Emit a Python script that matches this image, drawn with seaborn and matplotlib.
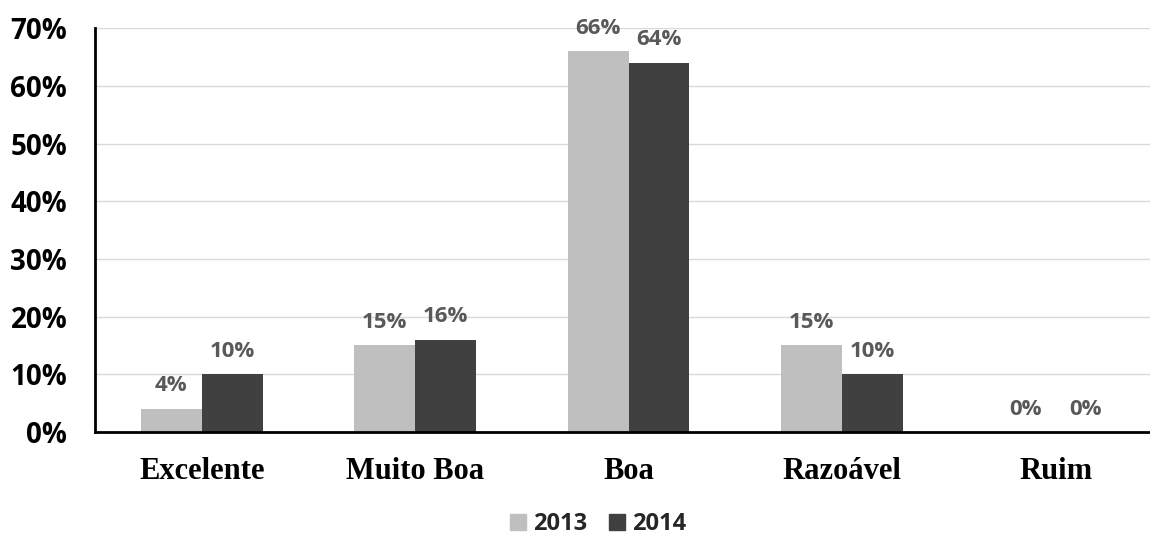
import matplotlib
matplotlib.use("Agg")
import matplotlib.pyplot as plt
import seaborn as sns
import pandas as pd

categories = ["Excelente", "Muito Boa", "Boa", "Razoável", "Ruim"]
years = ["2013", "2014"]
values_2013 = [4, 15, 66, 15, 0]
values_2014 = [10, 16, 64, 10, 0]
y_ticks = [0, 10, 20, 30, 40, 50, 60, 70]
colors = {"2013": "#bfbfbf", "2014": "#404040"}

df = pd.DataFrame({
    "categoria": categories * 2,
    "ano": [years[0]] * len(categories) + [years[1]] * len(categories),
    "valor": values_2013 + values_2014,
})

sns.set_theme(style="white")
plt.rcParams["font.family"] = ["Open Sans", "DejaVu Sans"]

fig = plt.figure(figsize=(11.5, 5.37), dpi=100)
ax = fig.add_axes([0.0826, 0.1955, 1.0107 - 0.0826, 0.752])

sns.barplot(data=df, x="categoria", y="valor", hue="ano", order=categories,
            hue_order=years, palette=colors, width=0.57, gap=0,
            saturation=1, linewidth=0, ax=ax, legend=False)

ax.set_ylim(0, 70)
ax.set_xlim(-0.5, 4.5)
ax.set_yticks(y_ticks)
ax.set_yticklabels([f"{t}%" for t in y_ticks], fontsize=20, fontweight="bold",
                   color="#000000")
ax.set_xticks(range(len(categories)))
ax.set_xticklabels(categories, fontsize=22, fontweight="bold",
                   family="Liberation Serif", color="#000000")
ax.tick_params(axis="x", pad=18, length=0)
ax.tick_params(axis="y", pad=20, length=0)
ax.set_xlabel("")
ax.set_ylabel("")

ax.yaxis.grid(True, color="#d9d9d9", linewidth=1)
ax.set_axisbelow(True)
for side in ["top", "right"]:
    ax.spines[side].set_visible(False)
for side in ["left", "bottom"]:
    ax.spines[side].set_visible(True)
    ax.spines[side].set_color("#000000")
    ax.spines[side].set_linewidth(2)

for container, vals in zip(ax.containers, [values_2013, values_2014]):
    ax.bar_label(container, labels=[f"{v}%" for v in vals], padding=9,
                 fontsize=16, fontweight="bold", color="#595959")

handles = [plt.Rectangle((0, 0), 1, 1, color=colors[y]) for y in years]
fig.legend(handles, years, loc="lower center", bbox_to_anchor=(0.52, -0.038),
           ncol=2, frameon=False, prop={"size": 17, "weight": "bold"},
           handlelength=0.7, handleheight=0.7, handletextpad=0.3,
           columnspacing=0.9)

fig.savefig("out.png", dpi=100)
